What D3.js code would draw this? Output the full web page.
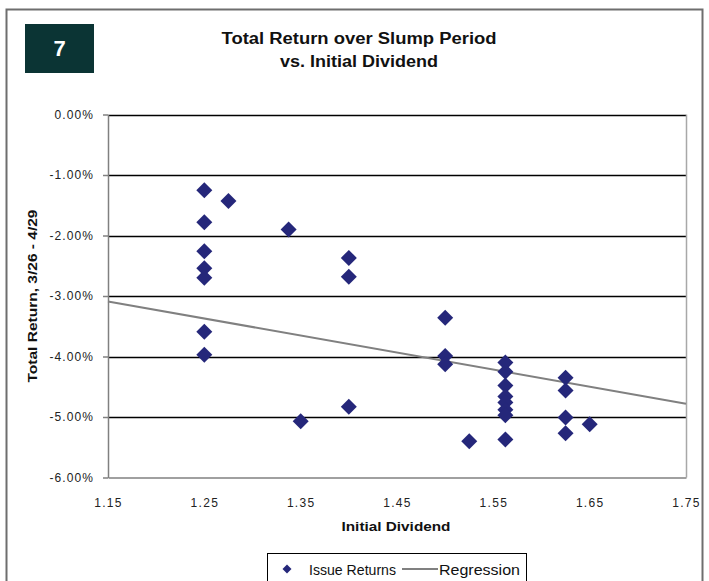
<!DOCTYPE html>
<html>
<head>
<meta charset="utf-8">
<script src="https://cdn.jsdelivr.net/npm/d3@7"></script>
<style>
  html, body { margin: 0; padding: 0; background: #fff; }
  svg { display: block; font-family: "Liberation Sans", Arial, sans-serif; }
</style>
</head>
<body>
<svg id="chart" width="709" height="581"></svg>
<script>
// Initial dividend of each issue and its total return (%) over the slump period
const initialDividend = [
  1.25, 1.25, 1.25, 1.25, 1.25, 1.25, 1.25,
  1.275,
  1.3375,
  1.35,
  1.40, 1.40, 1.40,
  1.50, 1.50, 1.50,
  1.525,
  1.5625, 1.5625, 1.5625, 1.5625, 1.5625, 1.5625, 1.5625, 1.5625,
  1.625, 1.625, 1.625, 1.625,
  1.65
];
const totalReturn = [
  -1.25, -1.78, -2.26, -2.54, -2.70, -3.59, -3.97,
  -1.43,
  -1.90,
  -5.07,
  -2.37, -2.68, -4.83,
  -3.36, -3.99, -4.13,
  -5.40,
  -4.10, -4.25, -4.48, -4.66, -4.76, -4.88, -4.97, -5.37,
  -4.35, -4.56, -5.01, -5.27,
  -5.12
];

// Regression line end points (dividend, return %)
const regressionX = [1.15, 1.75];
const regressionY = [-3.09, -4.78];

// Axis ticks
const xTicks = [1.15, 1.25, 1.35, 1.45, 1.55, 1.65, 1.75];
const yTicks = [0, -1, -2, -3, -4, -5, -6];

const chartNumber = "7";
const titleLines = ["Total Return over Slump Period", "vs. Initial Dividend"];
const xTitle = "Initial Dividend";
const yTitle = "Total Return, 3/26 - 4/29";
const legendLabels = ["Issue Returns", "Regression"];

const points = initialDividend.map((d, i) => ({ x: d, y: totalReturn[i] }));
const regression = regressionX.map((d, i) => ({ x: d, y: regressionY[i] }));

const svg = d3.select("#chart");
const W = 709, H = 581;
const plot = { left: 108, right: 686, top: 114.5, bottom: 477.5 };

const x = d3.scaleLinear().domain([1.15, 1.75]).range([plot.left, plot.right]);
const y = d3.scaleLinear().domain([-6, 0]).range([plot.bottom, plot.top]);

const locale = d3.formatLocale({ decimal: ".", thousands: ",", grouping: [3], currency: ["$", ""], minus: "-" });
const fmtPct = d => locale.format(".2f")(d) + "%";
const fmtX = locale.format(".2f");

const navy = "#25277a";
const gray = "#808080";

svg.append("rect").attr("width", W).attr("height", H).attr("fill", "#fff");

// outer frame
svg.append("rect")
  .attr("x", 6.5).attr("y", 9.5)
  .attr("width", 696).attr("height", 600)
  .attr("fill", "none").attr("stroke", "#6e6e6e").attr("stroke-width", 2);

// chart number badge
svg.append("rect")
  .attr("x", 25).attr("y", 24).attr("width", 69).attr("height", 49)
  .attr("fill", "#0b3434");
svg.append("text")
  .attr("x", 59.5).attr("y", 56)
  .attr("text-anchor", "middle")
  .attr("fill", "#fff").attr("font-weight", "bold").attr("font-size", 22)
  .text(chartNumber);

// title
const titleWidths = [275, 158];
svg.selectAll("text.title").data(titleLines).join("text")
  .attr("class", "title")
  .attr("x", 359).attr("y", (d, i) => 43.5 + i * 23.5)
  .attr("text-anchor", "middle")
  .attr("font-weight", "bold").attr("font-size", 16).attr("fill", "#111")
  .attr("textLength", (d, i) => titleWidths[i])
  .attr("lengthAdjust", "spacingAndGlyphs")
  .text(d => d);

// gridlines
svg.append("g").selectAll("line").data(yTicks.filter(t => t > -6)).join("line")
  .attr("x1", plot.left).attr("x2", plot.right)
  .attr("y1", d => Math.round(y(d)) + 0.5).attr("y2", d => Math.round(y(d)) + 0.5)
  .attr("stroke", "#000").attr("stroke-width", 1.3);

// right border of plot area
svg.append("line")
  .attr("x1", plot.right + 0.5).attr("x2", plot.right + 0.5)
  .attr("y1", plot.top).attr("y2", plot.bottom)
  .attr("stroke", "#a8a8a8").attr("stroke-width", 1.5);

// y axis
const yAxis = svg.append("g")
  .attr("transform", `translate(${plot.left},0)`)
  .call(d3.axisLeft(y).tickValues(yTicks).tickFormat(fmtPct).tickSizeInner(5).tickSizeOuter(0).tickPadding(9));
yAxis.select(".domain").attr("stroke", gray).attr("stroke-width", 1.5);
yAxis.selectAll(".tick line").attr("stroke", gray).attr("stroke-width", 1.5);
yAxis.selectAll(".tick text")
  .attr("font-family", "'Liberation Sans', Arial, sans-serif")
  .attr("font-size", 12).attr("letter-spacing", 1.1).attr("fill", "#222");

// x axis
const xAxis = svg.append("g")
  .attr("transform", `translate(0,${plot.bottom})`)
  .call(d3.axisBottom(x).tickValues(xTicks).tickFormat(fmtX).tickSize(0).tickPadding(21));
xAxis.select(".domain").attr("stroke", gray).attr("stroke-width", 1.5);
xAxis.selectAll(".tick text")
  .attr("font-family", "'Liberation Sans', Arial, sans-serif")
  .attr("font-size", 12).attr("letter-spacing", 1.3).attr("fill", "#222");

// axis titles
svg.append("text")
  .attr("x", 396).attr("y", 531)
  .attr("text-anchor", "middle")
  .attr("font-weight", "bold").attr("font-size", 13).attr("fill", "#111")
  .attr("textLength", 109).attr("lengthAdjust", "spacingAndGlyphs")
  .text(xTitle);
svg.append("text")
  .attr("transform", "translate(37,296) rotate(-90)")
  .attr("text-anchor", "middle")
  .attr("font-weight", "bold").attr("font-size", 13).attr("fill", "#111")
  .attr("textLength", 173).attr("lengthAdjust", "spacingAndGlyphs")
  .text(yTitle);

// regression line
svg.append("path")
  .datum(regression)
  .attr("d", d3.line().x(d => x(d.x)).y(d => y(d.y)))
  .attr("fill", "none").attr("stroke", gray).attr("stroke-width", 2);

// issue return markers
const diamond = r => `M0,${-r}L${r},0L0,${r}L${-r},0Z`;
svg.append("g").selectAll("path").data(points).join("path")
  .attr("transform", d => `translate(${x(d.x)},${y(d.y)})`)
  .attr("d", diamond(8))
  .attr("fill", navy);

// legend
const lg = svg.append("g");
lg.append("rect")
  .attr("x", 267.5).attr("y", 553.5).attr("width", 259).attr("height", 40)
  .attr("fill", "#fff").attr("stroke", "#000").attr("stroke-width", 1);
lg.append("path")
  .attr("transform", "translate(287,569)")
  .attr("d", diamond(4.5)).attr("fill", navy);
lg.append("text")
  .attr("x", 309).attr("y", 574.5)
  .attr("font-size", 14).attr("fill", "#111")
  .attr("textLength", 87).attr("lengthAdjust", "spacingAndGlyphs")
  .text(legendLabels[0]);
lg.append("line")
  .attr("x1", 402).attr("x2", 438).attr("y1", 569).attr("y2", 569)
  .attr("stroke", gray).attr("stroke-width", 2);
lg.append("text")
  .attr("x", 439).attr("y", 574.5)
  .attr("font-size", 14).attr("fill", "#111")
  .attr("textLength", 81).attr("lengthAdjust", "spacingAndGlyphs")
  .text(legendLabels[1]);
</script>
</body>
</html>
